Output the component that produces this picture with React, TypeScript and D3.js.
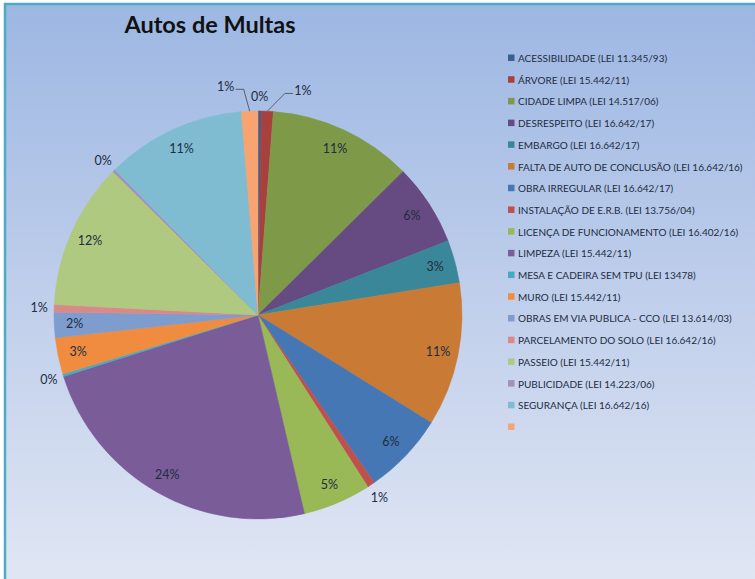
import React from "react";
import * as d3 from "d3";

// categorias da legenda, na ordem das fatias (sentido horário a partir do topo)
const categories = [
  "ACESSIBILIDADE (LEI 11.345/93)",
  "ÁRVORE (LEI 15.442/11)",
  "CIDADE LIMPA (LEI 14.517/06)",
  "DESRESPEITO (LEI 16.642/17)",
  "EMBARGO (LEI 16.642/17)",
  "FALTA DE AUTO DE CONCLUSÃO (LEI 16.642/16)",
  "OBRA IRREGULAR (LEI 16.642/17)",
  "INSTALAÇÃO DE E.R.B. (LEI 13.756/04)",
  "LICENÇA DE FUNCIONAMENTO (LEI 16.402/16)",
  "LIMPEZA (LEI 15.442/11)",
  "MESA E CADEIRA SEM TPU (LEI 13478)",
  "MURO (LEI 15.442/11)",
  "OBRAS EM VIA PUBLICA - CCO (LEI 13.614/03)",
  "PARCELAMENTO DO SOLO (LEI 16.642/16)",
  "PASSEIO (LEI 15.442/11)",
  "PUBLICIDADE (LEI 14.223/06)",
  "SEGURANÇA (LEI 16.642/16)",
  "",
];

// participação estimada de cada categoria (%)
const shares = [
  0.25, 0.95, 11.4, 6.49, 3.4, 11.4, 6.49, 0.6, 5.4, 23.8, 0.2, 2.9, 2.0, 0.6,
  11.6, 0.2, 11.1, 1.3,
];

const colors = [
  "#3b5f8f", "#a8403e", "#7e9a48", "#664a82", "#3a8799", "#c97a35",
  "#4577b5", "#c0504d", "#98b955", "#7a5c99", "#46aac4", "#f08c40",
  "#7e9cce", "#d98a88", "#b0c980", "#a290bd", "#7fbcd2", "#f8a470",
];

// ajustes dos rótulos externos que o Excel afastou (graus, px)
const labelNudge: Record<number, { da: number; dr: number; leader: boolean }> = {
  1: { da: 8.7, dr: 10, leader: true },
  17: { da: -5.7, dr: 12, leader: true },
};

const W = 755;
const H = 579;
const cx = 258;
const cy = 315;
const R = 204;
const FONT = "Lato, 'Open Sans', sans-serif";
const TEXT = "#222c3f";

export default function App() {
  const pie = d3
    .pie<number>()
    .sort(null)
    .value((d) => d);
  const arcs = pie(shares);
  const total = d3.sum(shares);
  const pct = d3.format(".0%");
  const arc = d3.arc<d3.PieArcDatum<number>>().innerRadius(0).outerRadius(R);

  const polar = (angle: number, r: number): [number, number] => [
    Math.sin(angle) * r,
    -Math.cos(angle) * r,
  ];

  const legendY = d3
    .scalePoint<number>()
    .domain(d3.range(categories.length))
    .range([58, 427]);

  return (
    <svg
      width={W}
      height={H}
      style={{ position: "absolute", left: 0, top: 0 }}
      fontFamily={FONT}
    >
      <defs>
        <linearGradient id="bg" x1="0" y1="0" x2="0" y2="1">
          <stop offset="0%" stopColor="#9db7e3" />
          <stop offset="55%" stopColor="#c3d1ec" />
          <stop offset="100%" stopColor="#e1e7f4" />
        </linearGradient>
      </defs>
      <rect x={0} y={0} width={W} height={H} fill="#ffffff" />
      <rect x={5} y={4} width={W + 10} height={H + 10} fill="url(#bg)" stroke="#4bacc6" strokeWidth={2.5} />

      <text x={210} y={24} textAnchor="middle" dominantBaseline="central" fontSize={23.5} fontWeight="bold" fill="#111">
        Autos de Multas
      </text>

      <g transform={`translate(${cx},${cy})`}>
        {arcs.map((a, i) => (
          <path key={i} d={arc(a) || ""} fill={colors[i]} stroke={colors[i]} strokeWidth={0.5} />
        ))}
        {arcs.map((a, i) => {
          const frac = a.value / total;
          const mid = (a.startAngle + a.endAngle) / 2;
          const inside = frac >= 0.015;
          const nudge = labelNudge[i];
          const ang = mid + ((nudge ? nudge.da : 0) * Math.PI) / 180;
          const rr = inside ? R * 0.9 : R + 15 + (nudge ? nudge.dr : 0);
          const [x, y] = polar(ang, rr);
          let leader = null;
          if (nudge && nudge.leader) {
            const [sx, sy] = polar(mid, R);
            const side = x > 0 ? -1 : 1;
            const ex = x + side * 10;
            const ey = y + 3;
            leader = (
              <polyline
                points={`${sx},${sy} ${ex + side * 8},${ey} ${ex},${ey}`}
                fill="none"
                stroke="#4a5568"
                strokeWidth={0.9}
              />
            );
          }
          return (
            <g key={`l${i}`}>
              {leader}
              <text x={x} y={y} textAnchor="middle" dominantBaseline="central" fontSize={12.5} fill={TEXT}>
                {pct(frac)}
              </text>
            </g>
          );
        })}
      </g>

      <g>
        {categories.map((c, i) => (
          <g key={i} transform={`translate(508,${legendY(i)})`}>
            <rect x={0} y={-3.5} width={6.5} height={6.5} fill={colors[i]} />
            <text x={10} y={0} dominantBaseline="central" fontSize={10} fill={TEXT}>
              {c}
            </text>
          </g>
        ))}
      </g>
    </svg>
  );
}
